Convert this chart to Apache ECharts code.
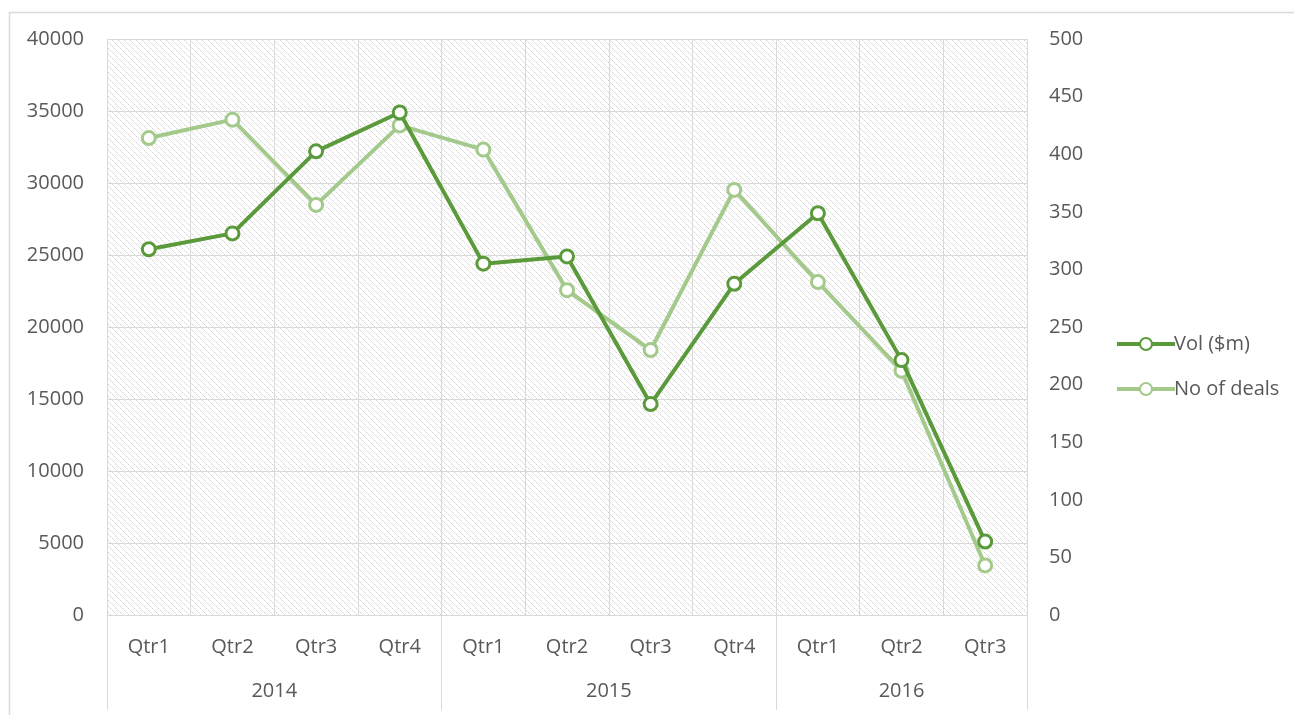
<!DOCTYPE html>
<html>
<head>
<meta charset="utf-8">
<script src="https://cdn.jsdelivr.net/npm/echarts@6/dist/echarts.min.js"></script>
<style>
html,body{margin:0;padding:0;background:#fff;}
#chart{width:1294px;height:715px;}
</style>
</head>
<body>
<div id="chart"></div>
<script>
// ---- data ----
const quarters = ['Qtr1','Qtr2','Qtr3','Qtr4','Qtr1','Qtr2','Qtr3','Qtr4','Qtr1','Qtr2','Qtr3'];
const years = ['2014','2015','2016'];
const quartersPerYear = [4, 4, 3];
const volume = [25400, 26500, 32200, 34900, 24400, 24900, 14650, 23000, 27900, 17700, 5100];
const deals = [414, 430, 356, 425, 404, 282, 230, 369, 289, 212, 43];
const leftAxis = { min: 0, max: 40000, interval: 5000 };
const rightAxis = { min: 0, max: 500, interval: 50 };
const seriesNames = ['Vol ($m)', 'No of deals'];

// ---- derived helpers ----
const yearStarts = [];
const yearCenters = {};
let acc = 0;
quartersPerYear.forEach((n, i) => {
  yearStarts.push(acc);
  yearCenters[(acc + n / 2).toFixed(1)] = years[i];
  acc += n;
});

const DARK = '#5B9A3B';
const LIGHT = '#A3C98B';
const TEXT = '#595959';
const GRID = '#D9D9D9';
const FONT = '"Open Sans", sans-serif';

// hatch pattern (dotted downward diagonal)
const P = 6;
const pc = document.createElement('canvas');
pc.width = P; pc.height = P;
const pctx = pc.getContext('2d');
pctx.fillStyle = '#ffffff';
pctx.fillRect(0, 0, P, P);
for (let i = 0; i < P; i++) {
  pctx.fillStyle = (i % 2 === 0) ? '#D2D2D2' : '#EBEBEB';
  pctx.fillRect(i, i, 1, 1);
}

const chart = echarts.init(document.getElementById('chart'), null, { renderer: 'canvas' });
chart.setOption({
  animation: false,
  backgroundColor: '#fff',
  textStyle: { fontFamily: FONT },
  graphic: [{
    type: 'rect', left: 7, top: 10, silent: true, z: -10,
    shape: { width: 1320, height: 740 },
    style: { fill: 'none', stroke: GRID, lineWidth: 1.5 }
  }],
  grid: {
    show: true, left: 107, right: 267, top: 39, bottom: 100,
    backgroundColor: { image: pc, repeat: 'repeat' },
    borderWidth: 0, containLabel: false
  },
  legend: {
    orient: 'vertical', left: 1110, top: 327,
    itemWidth: 58, itemHeight: 15, itemGap: 21,
    lineStyle: { width: 4 },
    textStyle: { color: TEXT, fontSize: 20, fontFamily: FONT, lineHeight: 24, padding: [0, 0, 0, -6] },
    data: seriesNames
  },
  xAxis: [{
    type: 'category', data: quarters, boundaryGap: true, position: 'bottom',
    axisLine: { show: true, lineStyle: { color: GRID, width: 1 } },
    axisTick: { show: true, length: 95, interval: (i) => yearStarts.includes(i), lineStyle: { color: GRID, width: 1 } },
    axisLabel: { interval: 0, color: TEXT, fontSize: 20, fontFamily: FONT, margin: 22 },
    splitLine: { show: true, interval: 0, lineStyle: { color: GRID, width: 1 } }
  }, {
    type: 'value', position: 'bottom', min: 0, max: quarters.length, interval: 0.5,
    axisLine: { show: false }, axisTick: { show: false }, splitLine: { show: false },
    axisLabel: {
      color: TEXT, fontSize: 20, fontFamily: FONT, margin: 66, showMinLabel: true, showMaxLabel: true,
      formatter: (v) => yearCenters[Number(v).toFixed(1)] || ''
    }
  }],
  yAxis: [{
    type: 'value', position: 'left', min: leftAxis.min, max: leftAxis.max, interval: leftAxis.interval,
    axisLine: { show: false }, axisTick: { show: false },
    axisLabel: { color: TEXT, fontSize: 20, fontFamily: FONT, margin: 23, formatter: (v) => String(v) },
    splitLine: { show: true, lineStyle: { color: GRID, width: 1 } }
  }, {
    type: 'value', position: 'right', min: rightAxis.min, max: rightAxis.max, interval: rightAxis.interval,
    axisLine: { show: false }, axisTick: { show: false },
    axisLabel: { color: TEXT, fontSize: 20, fontFamily: FONT, margin: 22, formatter: (v) => String(v) },
    splitLine: { show: false }
  }],
  series: [{
    name: seriesNames[0], type: 'line', data: volume, xAxisIndex: 0, yAxisIndex: 0,
    color: DARK, symbol: 'circle', symbolSize: 13, z: 3,
    lineStyle: { color: DARK, width: 4 },
    itemStyle: { color: '#ffffff', borderColor: DARK, borderWidth: 3 }
  }, {
    name: seriesNames[1], type: 'line', data: deals, xAxisIndex: 0, yAxisIndex: 1,
    color: LIGHT, symbol: 'circle', symbolSize: 13, z: 2,
    lineStyle: { color: LIGHT, width: 4 },
    itemStyle: { color: '#ffffff', borderColor: LIGHT, borderWidth: 3 }
  }]
});
</script>
</body>
</html>
